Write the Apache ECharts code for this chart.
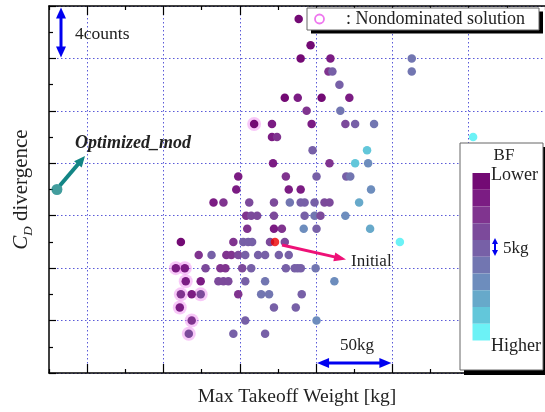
<!DOCTYPE html>
<html><head><meta charset="utf-8">
<script src="https://cdn.jsdelivr.net/npm/echarts@6/dist/echarts.min.js"></script>
<style>html,body{margin:0;padding:0;background:#fff}#c{width:545px;height:412px}</style>
</head><body><div id="c"></div>
<script>
// ---- data ----
// Max takeoff weight (kg, relative axis origin at left edge), CD divergence (counts), BF level (1 = lower ... 10 = higher), nondominated flag
const mtowKg = [
  163.6,
  171.4,
  164.9,184.4,237.7,
  183.1,185.7,237.7,
  190.3,
  154.5,163.0,178.6,196.8,
  168.8,190.9,
  134.4,146.1,172.1,194.2,200.6,213.0,
  146.1,149.4,277.9,
  172.7,208.4,
  146.8,183.8,200.6,209.1,
  124.0,155.2,175.3,194.8,197.4,
  122.7,157.1,164.9,211.0,
  107.8,114.3,131.2,147.4,157.8,164.9,167.5,174.0,180.5,183.8,203.2,
  129.2,132.5,136.4,147.4,167.5,174.0,177.9,194.2,
  129.9,147.4,152.6,166.9,175.3,210.4,
  86.4,120.8,127.3,130.5,133.1,144.8,154.5,229.9,
  98.1,106.5,116.2,119.5,124.0,128.6,137.0,141.6,150.6,157.1,
  83.1,89.0,102.6,112.3,115.6,126.6,132.5,155.2,161.0,163.0,165.0,174.7,
  89.6,99.4,111.0,114.3,117.5,128.6,141.6,187.0,
  86.4,93.5,99.4,124.0,139.0,144.2,165.6,
  85.7,147.4,161.7,
  93.5,128.6,175.3,
  91.6,120.8,141.6
];
const cdCounts = [
  27,
  25,
  24,24,24,
  23,23,23,
  22,
  21,21,21,21,
  20,20,
  19,19,19,19,19,19,
  18,18,18,
  17,17,
  16,16,16,16,
  15,15,15,15,15,
  14,14,14,14,
  13,13,13,13,13,13,13,13,13,13,13,
  12,12,12,12,12,12,12,12,
  11,11,11,11,11,11,
  10,10,10,10,10,10,10,10,
  9,9,9,9,9,9,9,9,9,9,
  8,8,8,8,8,8,8,8,8,8,8,8,
  7,7,7,7,7,7,7,7,
  6,6,6,6,6,6,6,
  5,5,5,
  4,4,4,
  3,3,3
];
const bfLevel = [
  1,
  1,
  1,2,6,
  3,5,6,
  5,
  1,2,1,2,
  3,6,
  1,2,2,4,5,6,
  2,3,10,
  5,9,
  2,3,9,7,
  2,3,5,5,6,
  2,2,2,7,
  2,3,4,4,6,5,5,5,4,4,8,
  3,4,4,4,5,6,4,7,
  3,2,3,7,5,8,
  1,3,5,5,5,4,4,10,
  3,5,3,3,4,5,5,5,5,5,
  2,2,4,3,3,4,5,5,5,5,5,6,
  2,2,4,4,4,5,6,7,
  3,2,4,3,6,6,5,
  2,5,5,
  3,5,7,
  4,5,5
];
const nondominated = [
  0,
  0,
  0,0,0,
  0,0,0,
  0,
  0,0,0,0,
  0,0,
  1,0,0,0,0,0,
  0,0,0,
  0,0,
  0,0,0,0,
  0,0,0,0,0,
  0,0,0,0,
  0,0,0,0,0,0,0,0,0,0,0,
  0,0,0,0,0,0,0,0,
  0,0,0,0,0,0,
  0,0,0,0,0,0,0,0,
  0,0,0,0,0,0,0,0,0,0,
  1,1,0,0,0,0,0,0,0,0,0,0,
  1,0,0,0,0,0,0,0,
  1,0,1,0,0,0,0,
  1,0,0,
  1,0,0,
  1,0,0
];
const initialPoint = [148.1, 10];
const optimizedPoint = [5.2, 14];
const bfColors = ['#730a74','#7b1c83','#80348f','#7c4a9b','#7760a7','#7276b1','#6d8dbd','#67a9ca','#62c7da','#6cf2f6'];
const bfLabels = ['Lower', 'Higher'];
const xRange = [0, 325], xInterval = 50;
const yRange = [0, 28], yInterval = 4;

// ---- chart ----
const chart = echarts.init(document.getElementById('c'));
const serif = '"Liberation Serif", "Times New Roman", serif';
const mainData = mtowKg.map((x, i) => [x, cdCounts[i], bfLevel[i]]);
const haloData = mainData.filter((d, i) => nondominated[i]);
const gridLineStyle = {color: '#5a5ad8', type: [1.5, 2.5], width: 1};

chart.setOption({
  animation: false,
  backgroundColor: '#fff',
  grid: {left: 49, top: 6, width: 500, height: 370.5},
  xAxis: [{
    type: 'value', min: xRange[0], max: xRange[1], interval: xInterval,
    name: 'Max Takeoff Weight [kg]', nameLocation: 'middle', nameGap: 14,
    nameTextStyle: {fontFamily: serif, fontSize: 19.5, color: '#222'},
    axisLine: {onZero: false, lineStyle: {color: '#000', width: 1.5}},
    axisTick: {inside: true, length: 4, lineStyle: {color: '#000', width: 1.2}},
    minorTick: {show: true, splitNumber: 2, length: 9, lineStyle: {color: '#000', width: 1.2}},
    minorSplitLine: {show: true, lineStyle: gridLineStyle},
    splitLine: {show: false},
    axisLabel: {show: false}
  }, {
    type: 'value', position: 'top', min: xRange[0], max: xRange[1], interval: xInterval,
    axisLine: {onZero: false, lineStyle: {color: '#000', width: 1.5}},
    axisTick: {inside: true, length: 4, lineStyle: {color: '#000', width: 1.2}},
    minorTick: {show: true, splitNumber: 2, length: 9, lineStyle: {color: '#000', width: 1.2}},
    splitLine: {show: false},
    axisLabel: {show: false}
  }],
  yAxis: {
    type: 'value', min: yRange[0], max: yRange[1], interval: yInterval,
    name: '{c|C}{d|D}{n| divergence}', nameLocation: 'middle', nameGap: 14, nameRotate: 90,
    nameTextStyle: {
      fontFamily: serif, fontSize: 21, color: '#222',
      rich: {
        c: {fontFamily: serif, fontSize: 21, fontStyle: 'italic', color: '#222'},
        d: {fontFamily: serif, fontSize: 13, fontStyle: 'italic', color: '#222', padding: [14, 0, 0, 0]},
        n: {fontFamily: serif, fontSize: 21, color: '#222'}
      }
    },
    axisLine: {onZero: false, lineStyle: {color: '#000', width: 1.5}},
    axisTick: {inside: true, length: 7, lineStyle: {color: '#000', width: 1.2}},
    minorTick: {show: true, splitNumber: 2, length: 4, lineStyle: {color: '#000', width: 1.2}},
    splitLine: {show: true, lineStyle: gridLineStyle},
    axisLabel: {show: false}
  },
  visualMap: {
    type: 'piecewise', seriesIndex: 1, dimension: 2, orient: 'vertical', inverse: true,
    pieces: bfColors.map((c, i) => ({value: i + 1, color: c})),
    left: 472.5, top: 173, itemWidth: 17.5, itemHeight: 16.75, itemGap: 0,
    showLabel: false, selectedMode: false, itemSymbol: 'rect', z: 30, padding: 0
  },
  series: [{
    type: 'scatter', name: 'halo', data: haloData, symbolSize: 14, z: 1,
    itemStyle: {color: 'rgba(240,130,240,0.55)'}, silent: true
  }, {
    type: 'scatter', name: 'designs', data: mainData, symbolSize: 8.5, z: 2,
    itemStyle: {opacity: 1}
  }, {
    type: 'scatter', name: 'initial', data: [initialPoint], symbolSize: 8.5, z: 3,
    itemStyle: {color: '#ee0000'}
  }, {
    type: 'scatter', name: 'optimized', data: [optimizedPoint], symbolSize: 11, z: 3,
    itemStyle: {color: '#138585'}
  }]
});

// ---- annotations ----
function arrow(p1, p2, color, lw, hl, hw, both, z) {
  const dx = p2[0] - p1[0], dy = p2[1] - p1[1], L = Math.hypot(dx, dy);
  const ux = dx / L, uy = dy / L, nx = -uy, ny = ux;
  const a = both ? [p1[0] + ux * hl * 0.8, p1[1] + uy * hl * 0.8] : p1;
  const b = [p2[0] - ux * hl * 0.8, p2[1] - uy * hl * 0.8];
  const head = (tip, sx, sy) => ({
    type: 'polygon', z: z, silent: true,
    shape: {points: [tip,
      [tip[0] - sx * hl + nx * hw / 2, tip[1] - sy * hl + ny * hw / 2],
      [tip[0] - sx * hl - nx * hw / 2, tip[1] - sy * hl - ny * hw / 2]]},
    style: {fill: color}
  });
  const els = [{type: 'line', z: z, silent: true, shape: {x1: a[0], y1: a[1], x2: b[0], y2: b[1]}, style: {stroke: color, lineWidth: lw}}];
  els.push(head(p2, ux, uy));
  if (both) els.push(head(p1, -ux, -uy));
  return els;
}
function txt(x, y, s, size, opts) {
  return {type: 'text', z: 40, silent: true, x: x, y: y,
    style: Object.assign({text: s, fontFamily: serif, fontSize: size, fill: '#222', verticalAlign: 'middle'}, opts || {})};
}
const P = (v) => chart.convertToPixel({gridIndex: 0}, v);
const countsTop = P([0, yRange[1]]), countsBot = P([0, yRange[1] - yInterval]);
const kgA = P([175, 0]), kgB = P([225, 0]);
const opt = P(optimizedPoint), ini = P(initialPoint);
const els = [];
// 4counts
els.push(...arrow([61, countsTop[1] + 1.5], [61, countsBot[1] - 1], '#0000f0', 3, 11, 10, true, 40));
els.push(txt(75, 34, '4counts', 17.5));
// 50kg
els.push(...arrow([kgA[0] + 1, 363], [kgB[0] - 1, 363], '#0000f0', 3, 12, 10, true, 40));
els.push(txt(340, 346, '50kg', 17));
// optimized
els.push(...arrow([opt[0] + 3, opt[1] - 4], [85, 156], '#138585', 4, 11, 10, false, 40));
els.push(txt(75, 143, 'Optimized_mod', 18, {fontWeight: 'bold', fontStyle: 'italic'}));
// initial
els.push(...arrow([ini[0] + 7, ini[1] + 3], [346, 259.5], '#ee1177', 3, 12, 9, false, 40));
els.push(txt(351, 262, 'Initial', 17));
// nondominated legend box
els.push({type: 'rect', z: 35, silent: true, shape: {x: 311, y: 11.5, width: 232, height: 22}, style: {fill: '#000'}});
els.push({type: 'rect', z: 36, silent: true, shape: {x: 307, y: 8, width: 232, height: 22}, style: {fill: '#fff', stroke: '#666', lineWidth: 1}});
els.push({type: 'circle', z: 40, silent: true, shape: {cx: 319.5, cy: 19, r: 4.5}, style: {fill: '#fff', stroke: '#ee77ee', lineWidth: 1.8}});
els.push(txt(346, 19.5, ': Nondominated solution', 18));
// BF legend box
els.push({type: 'rect', z: 25, silent: true, shape: {x: 464, y: 147, width: 83, height: 228}, style: {fill: '#000'}});
els.push({type: 'rect', z: 26, silent: true, shape: {x: 460, y: 143, width: 83, height: 227}, style: {fill: '#fff', stroke: '#666', lineWidth: 1}});
els.push(txt(504, 156, 'BF', 17, {align: 'center'}));
els.push(txt(491, 175, bfLabels[0], 18));
els.push(txt(491, 346, bfLabels[1], 18));
els.push(...arrow([495, 238], [495, 256], '#0000f0', 2, 6, 6, true, 40));
els.push(txt(503, 249, '5kg', 17));
chart.setOption({graphic: {elements: els}});
</script>
</body></html>
